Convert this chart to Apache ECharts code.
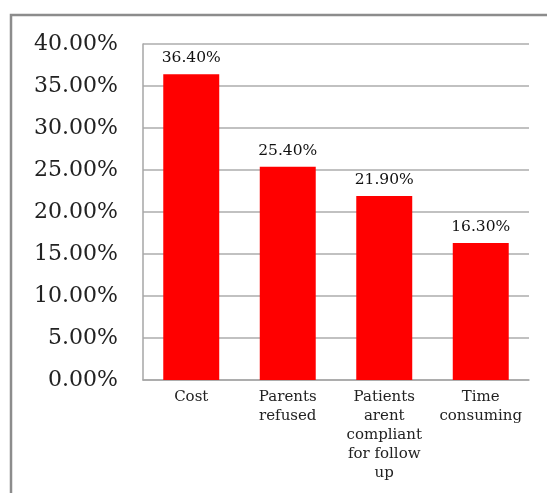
<!DOCTYPE html>
<html>
<head>
<meta charset="utf-8">
<script src="https://cdn.jsdelivr.net/npm/echarts@6/dist/echarts.min.js"></script>
<style>
  html, body { margin: 0; padding: 0; background: #fff; }
  #chart { width: 547px; height: 493px; }
</style>
</head>
<body>
<div id="chart"></div>
<script>
// Reasons, in percent
const categories = ['Cost', 'Parents\nrefused', 'Patients\narent\ncompliant\nfor follow\nup', 'Time\nconsuming'];
const values = [36.4, 25.4, 21.9, 16.3];

const chart = echarts.init(document.getElementById('chart'));

const option = {
    animation: false,
    backgroundColor: '#fff',
    graphic: [{
        type: 'rect',
        shape: { x: 11, y: 15, width: 600, height: 600 },
        style: { fill: 'none', stroke: '#8c8c8c', lineWidth: 2.5 },
        silent: true
    }],
    grid: { left: 143, top: 44, right: 18, bottom: 113 },
    xAxis: {
        type: 'category',
        data: categories,
        axisLine: { lineStyle: { color: '#a6a6a6', width: 1.5 } },
        axisTick: { show: false },
        axisLabel: {
            interval: 0,
            fontFamily: 'DejaVu Serif',
            fontSize: 15,
            lineHeight: 19,
            color: '#222',
            margin: 8
        }
    },
    yAxis: {
        type: 'value',
        min: 0,
        max: 40,
        interval: 5,
        axisLine: { show: true, lineStyle: { color: '#a6a6a6', width: 1.5 } },
        axisTick: { show: false },
        splitLine: { lineStyle: { color: '#acacac', width: 1.5 } },
        axisLabel: {
            fontFamily: 'DejaVu Serif',
            fontSize: 22,
            color: '#222',
            margin: 25,
            formatter: v => v.toFixed(2) + '%'
        }
    },
    series: [{
        name: 'Reasons',
        type: 'bar',
        data: values,
        barWidth: '58%',
        itemStyle: { color: '#ff0000' },
        label: {
            show: true,
            position: 'top',
            distance: 8,
            fontFamily: 'DejaVu Serif',
            fontSize: 15.5,
            color: '#111',
            formatter: p => p.value.toFixed(2) + '%'
        }
    }]
};

chart.setOption(option);
</script>
</body>
</html>
